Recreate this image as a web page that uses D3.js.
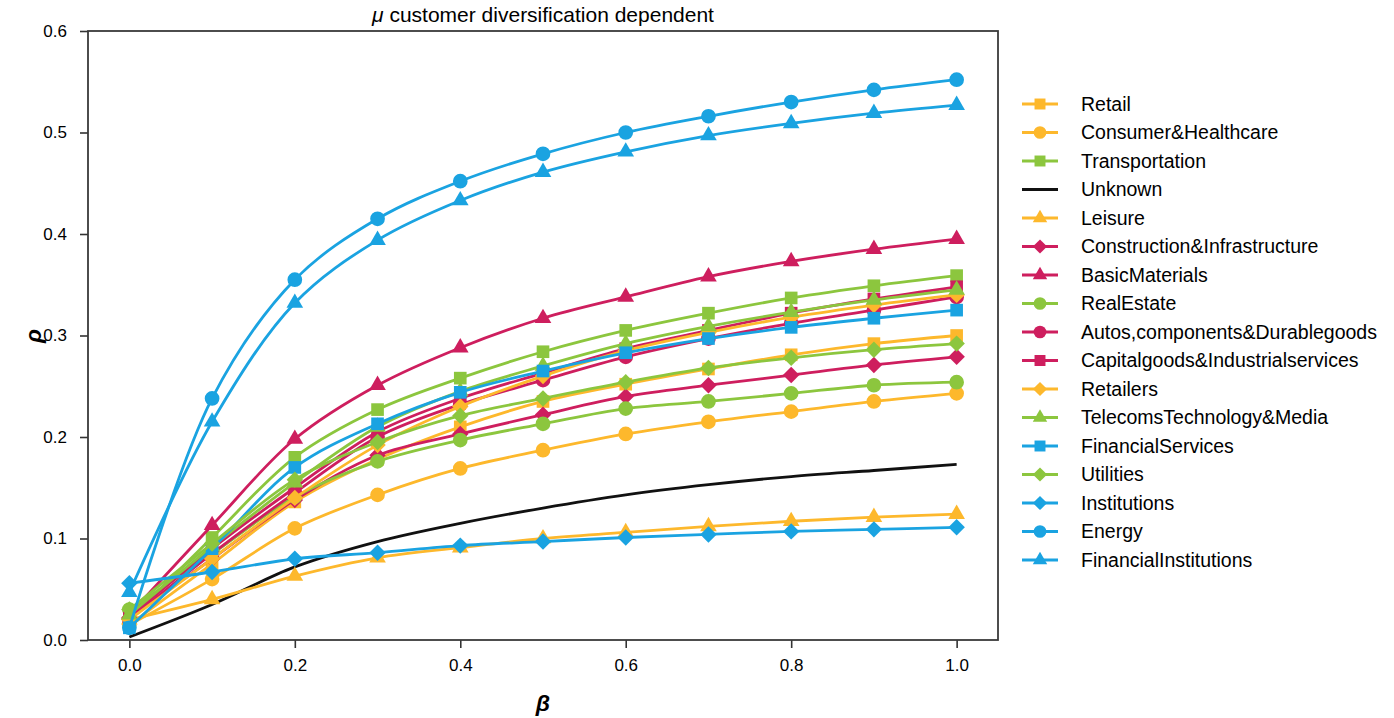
<!DOCTYPE html>
<html>
<head>
<meta charset="utf-8">
<script src="https://cdn.jsdelivr.net/npm/d3@7"></script>
<style>
  html, body { margin: 0; padding: 0; background: #fff; }
  svg { display: block; }
  text { font-family: "Liberation Sans", Arial, sans-serif; }
</style>
</head>
<body>
<svg id="chart" width="1394" height="718"></svg>
<script>
// ---------- data ----------
const betas = [0.0, 0.1, 0.2, 0.3, 0.4, 0.5, 0.6, 0.7, 0.8, 0.9, 1.0];
const xTicks = [0.0, 0.2, 0.4, 0.6, 0.8, 1.0];
const yTicks = [0.0, 0.1, 0.2, 0.3, 0.4, 0.5, 0.6];

const names = [
  "Retail", "Consumer&Healthcare", "Transportation", "Unknown", "Leisure",
  "Construction&Infrastructure", "BasicMaterials", "RealEstate",
  "Autos,components&Durablegoods", "Capitalgoods&Industrialservices",
  "Retailers", "TelecomsTechnology&Media", "FinancialServices", "Utilities",
  "Institutions", "Energy", "FinancialInstitutions"
];
const colorKeys = ["yellow","yellow","green","black","yellow","red","red","green","red","red","yellow","green","blue","green","blue","blue","blue"];
const markerKeys = ["square","circle","square","none","triangle","diamond","triangle","circle","circle","square","diamond","triangle","square","diamond","diamond","circle","triangle"];

const retail        = [0.015, 0.075, 0.136, 0.178, 0.210, 0.235, 0.252, 0.267, 0.281, 0.292, 0.300];
const consumer      = [0.015, 0.060, 0.110, 0.143, 0.169, 0.187, 0.203, 0.215, 0.225, 0.235, 0.243];
const transport     = [0.020, 0.101, 0.180, 0.227, 0.258, 0.284, 0.305, 0.322, 0.337, 0.349, 0.359];
const unknown       = [0.003, 0.035, 0.072, 0.097, 0.115, 0.130, 0.143, 0.153, 0.161, 0.167, 0.173];
const leisure       = [0.020, 0.040, 0.063, 0.081, 0.091, 0.100, 0.106, 0.112, 0.117, 0.121, 0.124];
const construction  = [0.022, 0.080, 0.138, 0.182, 0.203, 0.222, 0.240, 0.251, 0.261, 0.271, 0.279];
const basicMat      = [0.025, 0.113, 0.198, 0.251, 0.288, 0.317, 0.338, 0.358, 0.373, 0.385, 0.395];
const realEstate    = [0.030, 0.085, 0.141, 0.176, 0.197, 0.213, 0.228, 0.235, 0.243, 0.251, 0.254];
const autos         = [0.020, 0.085, 0.145, 0.200, 0.232, 0.256, 0.279, 0.297, 0.312, 0.325, 0.338];
const capital       = [0.022, 0.090, 0.150, 0.205, 0.238, 0.263, 0.287, 0.305, 0.322, 0.336, 0.348];
const retailers     = [0.020, 0.080, 0.140, 0.192, 0.230, 0.260, 0.285, 0.303, 0.318, 0.330, 0.340];
const telecoms      = [0.025, 0.092, 0.155, 0.210, 0.245, 0.270, 0.292, 0.309, 0.323, 0.335, 0.345];
const finServices   = [0.012, 0.090, 0.170, 0.213, 0.244, 0.265, 0.283, 0.297, 0.308, 0.317, 0.325];
const utilities     = [0.030, 0.095, 0.158, 0.195, 0.221, 0.238, 0.254, 0.268, 0.278, 0.286, 0.292];
const institutions  = [0.056, 0.067, 0.080, 0.086, 0.093, 0.097, 0.101, 0.104, 0.107, 0.109, 0.111];
const energy        = [0.012, 0.238, 0.355, 0.415, 0.452, 0.479, 0.500, 0.516, 0.530, 0.542, 0.552];
const finInst       = [0.047, 0.215, 0.332, 0.394, 0.433, 0.461, 0.481, 0.497, 0.509, 0.519, 0.527];

const seriesValues = [retail, consumer, transport, unknown, leisure, construction, basicMat,
  realEstate, autos, capital, retailers, telecoms, finServices, utilities, institutions, energy, finInst];

// ---------- styling ----------
const palette = { yellow: "#FDB82C", green: "#8CC63E", black: "#111111", red: "#CE1E5E", blue: "#1AA3E1" };

const svg = d3.select("#chart");
const x = d3.scaleLinear().domain([-0.05, 1.05]).range([88, 998]);
const y = d3.scaleLinear().domain([0, 0.6]).range([640, 31]);

// title
svg.append("text")
  .attr("x", 543).attr("y", 22)
  .attr("text-anchor", "middle")
  .attr("font-size", 21)
  .call(t => {
    t.append("tspan").attr("font-style", "italic").attr("font-size", 21).text("μ");
    t.append("tspan").text(" customer diversification dependent");
  });

// clip
svg.append("clipPath").attr("id", "clip")
  .append("rect").attr("x", 88).attr("y", 31).attr("width", 910).attr("height", 609);

// axes
const xAxis = d3.axisBottom(x).tickValues(xTicks).tickFormat(d3.format(".1f")).tickSize(8).tickPadding(11);
const yAxis = d3.axisLeft(y).tickValues(yTicks).tickFormat(d3.format(".1f")).tickSize(8).tickPadding(13);

const gx = svg.append("g").attr("transform", "translate(0,640)").call(xAxis);
const gy = svg.append("g").attr("transform", "translate(88,0)").call(yAxis);
[gx, gy].forEach(g => {
  g.select(".domain").remove();
  g.selectAll(".tick line").attr("stroke", "#333").attr("stroke-width", 1.6);
  g.selectAll(".tick text").attr("font-size", 17).attr("fill", "#000");
});

// lines and markers
const line = d3.line()
  .x((d, i) => x(betas[i]))
  .y(d => y(d))
  .curve(d3.curveCatmullRom.alpha(0.5));

const symbolMap = {
  square: { type: d3.symbolSquare, size: 160, rot: 0 },
  circle: { type: d3.symbolCircle, size: 170, rot: 0 },
  triangle: { type: d3.symbolTriangle, size: 120, rot: 0 },
  diamond: { type: d3.symbolSquare, size: 135, rot: 45 }
};

const plot = svg.append("g").attr("clip-path", "url(#clip)");
seriesValues.forEach((vals, si) => {
  const col = palette[colorKeys[si]];
  const g = plot.append("g");
  g.append("path")
    .attr("d", line(vals))
    .attr("fill", "none")
    .attr("stroke", col)
    .attr("stroke-width", 2.8);
  const mk = markerKeys[si];
  if (mk !== "none") {
    const s = symbolMap[mk];
    const sym = d3.symbol().type(s.type).size(s.size);
    g.selectAll("path.m").data(vals).enter().append("path")
      .attr("class", "m")
      .attr("d", sym)
      .attr("transform", (d, i) => `translate(${x(betas[i])},${y(d)}) rotate(${s.rot})`)
      .attr("fill", col);
  }
});

// frame
svg.append("rect")
  .attr("x", 88).attr("y", 31).attr("width", 910).attr("height", 609)
  .attr("fill", "none").attr("stroke", "#3a3a3a").attr("stroke-width", 1.8);

// axis labels
svg.append("text")
  .attr("x", 543).attr("y", 711)
  .attr("text-anchor", "middle")
  .attr("font-size", 23).attr("font-style", "italic").attr("font-weight", "bold")
  .text("β");
svg.append("text")
  .attr("transform", "translate(41,336) rotate(-90)")
  .attr("text-anchor", "middle")
  .attr("font-size", 23).attr("font-style", "italic").attr("font-weight", "bold")
  .text("ρ");

// legend
const legend = svg.append("g").attr("transform", "translate(1022,104)");
names.forEach((name, i) => {
  const col = palette[colorKeys[i]];
  const row = legend.append("g").attr("transform", `translate(0,${i * 28.5})`);
  row.append("line").attr("x1", 0).attr("x2", 36).attr("y1", 0).attr("y2", 0)
    .attr("stroke", col).attr("stroke-width", 2.8);
  const mk = markerKeys[i];
  if (mk !== "none") {
    const s = symbolMap[mk];
    const sym = d3.symbol().type(s.type).size(s.size * 0.75);
    row.append("path").attr("d", sym)
      .attr("transform", `translate(18,0) rotate(${s.rot})`)
      .attr("fill", col);
  }
  row.append("text").attr("x", 59).attr("y", 0).attr("dy", "0.35em")
    .attr("font-size", 19.5).attr("fill", "#000").text(name);
});
</script>
</body>
</html>
